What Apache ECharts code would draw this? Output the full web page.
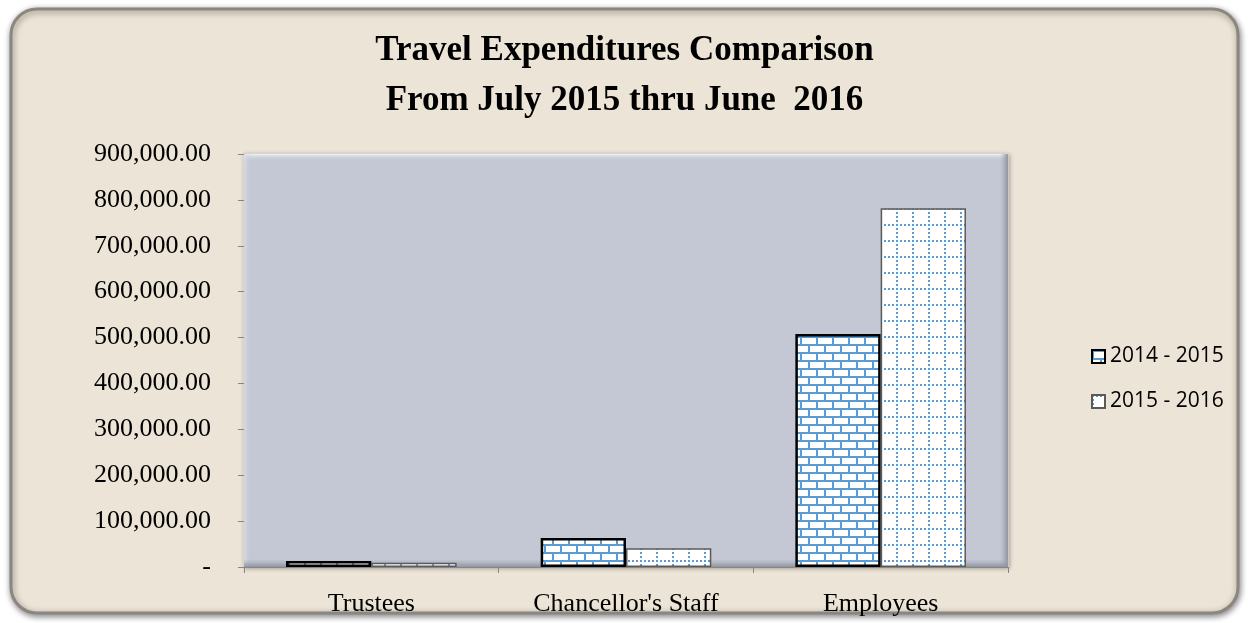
<!DOCTYPE html>
<html>
<head>
<meta charset="utf-8">
<script src="https://cdn.jsdelivr.net/npm/echarts@6/dist/echarts.min.js"></script>
<style>
  html, body { margin: 0; padding: 0; background: #ffffff; }
  #main { width: 1249px; height: 623px; }
</style>
</head>
<body>
<div id="main"></div>
<script>
// data
var categories = ["Trustees", "Chancellor's Staff", "Employees"];
var seriesNames = ["2014 - 2015", "2015 - 2016"];
var values1415 = [13000, 63000, 508000];
var values1516 = [9000, 41000, 782000];

// brick fill for 2014-2015
function brickPattern() {
  var c = document.createElement('canvas');
  c.width = 16; c.height = 16;
  var g = c.getContext('2d');
  g.fillStyle = '#ffffff';
  g.fillRect(0, 0, 16, 16);
  g.fillStyle = '#5b9bd5';
  g.fillRect(0, 0, 16, 2);
  g.fillRect(0, 8, 16, 2);
  g.fillRect(0, 0, 2, 8);
  g.fillRect(8, 8, 2, 8);
  return c;
}

// dotted grid fill for 2015-2016
function dotPattern() {
  var c = document.createElement('canvas');
  c.width = 16; c.height = 16;
  var g = c.getContext('2d');
  g.fillStyle = '#ffffff';
  g.fillRect(0, 0, 16, 16);
  g.fillStyle = '#5b9bd5';
  for (var i = 0; i < 16; i += 4) {
    g.fillRect(i, 0, 2, 2);
    g.fillRect(0, i, 2, 2);
  }
  return c;
}

// plot area box (same numbers as grid below)
var gl = 244, gt = 154, gr = 1008, gb = 567, bev = 8;

function strip(x, y, w, h, x2, y2, c0, c1) {
  return {
    type: 'rect',
    z: 1,
    silent: true,
    shape: { x: x, y: y, width: w, height: h },
    style: {
      fill: new echarts.graphic.LinearGradient(0, 0, x2, y2, [
        { offset: 0, color: c0 },
        { offset: 1, color: c1 }
      ])
    }
  };
}

var chart = echarts.init(document.getElementById('main'));

var option = {
  backgroundColor: '#ffffff',
  graphic: [
    {
      type: 'rect',
      z: -10,
      silent: true,
      shape: { x: 11, y: 9, width: 1227, height: 604, r: 26 },
      style: {
        fill: '#ece4d6',
        stroke: '#8a8680',
        lineWidth: 3,
        shadowBlur: 6,
        shadowColor: 'rgba(0,0,0,0.45)',
        shadowOffsetX: 1,
        shadowOffsetY: 2
      }
    },
    // bevel edges of the plot area
    strip(gl, gt, gr - gl, bev, 0, 1, 'rgba(240,243,247,0.95)', 'rgba(195,200,212,0)'),
    strip(gl, gt, bev, gb - gt, 1, 0, 'rgba(225,229,236,0.9)', 'rgba(195,200,212,0)'),
    strip(gr - bev, gt, bev, gb - gt, 1, 0, 'rgba(160,166,178,0)', 'rgba(140,146,158,0.95)'),
    strip(gl, gb - bev, gr - gl, bev, 0, 1, 'rgba(160,166,178,0)', 'rgba(140,146,158,0.95)')
  ],
  title: {
    text: 'Travel Expenditures Comparison\nFrom July 2015 thru June  2016',
    left: 'center',
    top: 21,
    textStyle: {
      fontFamily: 'Liberation Serif',
      fontWeight: 'bold',
      fontSize: 35,
      lineHeight: 50,
      color: '#000000'
    }
  },
  legend: {
    orient: 'vertical',
    left: 1086,
    top: 341,
    itemWidth: 13,
    itemHeight: 13,
    itemGap: 24,
    icon: 'rect',
    textStyle: {
      fontFamily: 'Open Sans',
      fontSize: 21,
      color: '#000000'
    },
    data: seriesNames
  },
  grid: {
    left: gl,
    right: 1249 - gr,
    top: gt,
    bottom: 623 - gb,
    show: true,
    backgroundColor: '#c3c8d4',
    borderColor: '#dde1e8',
    borderWidth: 1,
    shadowColor: 'rgba(0,0,0,0.3)',
    shadowBlur: 4,
    shadowOffsetX: 1,
    shadowOffsetY: 1,
    containLabel: false
  },
  xAxis: {
    type: 'category',
    data: categories,
    axisLine: { lineStyle: { color: '#868686', width: 1 } },
    axisTick: { show: true, length: 6, lineStyle: { color: '#868686' } },
    axisLabel: {
      margin: 24,
      fontFamily: 'Liberation Serif',
      fontSize: 26,
      color: '#000000'
    }
  },
  yAxis: {
    type: 'value',
    min: 0,
    max: 900000,
    interval: 100000,
    splitLine: { show: false },
    axisLine: { show: true, lineStyle: { color: '#868686', width: 1 } },
    axisTick: { show: true, length: 6, lineStyle: { color: '#868686' } },
    axisLabel: {
      margin: 33,
      fontFamily: 'Liberation Serif',
      fontSize: 26,
      color: '#000000',
      formatter: function (v) {
        if (v === 0) return '-';
        return v.toLocaleString('en-US', { minimumFractionDigits: 2, maximumFractionDigits: 2 });
      }
    }
  },
  series: [
    {
      name: seriesNames[0],
      type: 'bar',
      z: 3,
      barGap: '0%',
      barCategoryGap: '33%',
      itemStyle: {
        color: { image: brickPattern(), repeat: 'repeat' },
        borderColor: '#000000',
        borderWidth: 2.5
      },
      emphasis: { disabled: true },
      data: values1415
    },
    {
      name: seriesNames[1],
      type: 'bar',
      z: 3,
      itemStyle: {
        color: { image: dotPattern(), repeat: 'repeat' },
        borderColor: '#5a5a5a',
        borderWidth: 1.5
      },
      emphasis: { disabled: true },
      data: values1516
    }
  ]
};

chart.setOption(option);
</script>
</body>
</html>
